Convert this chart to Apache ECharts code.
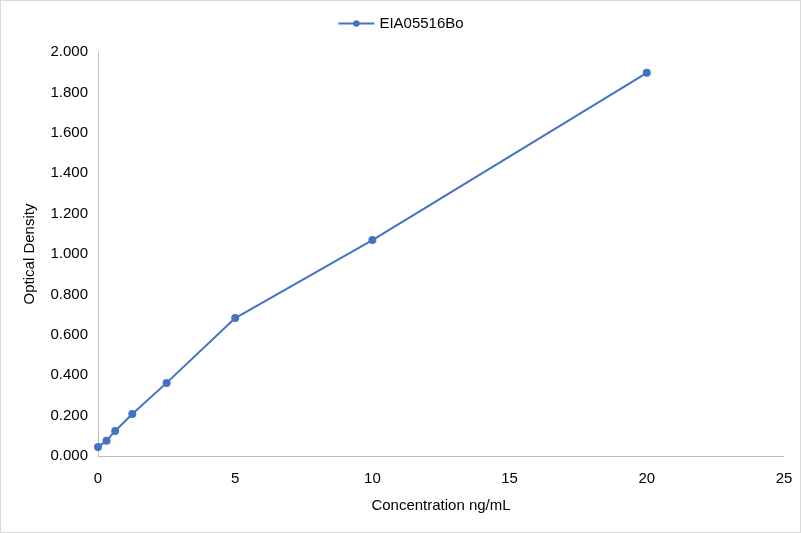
<!DOCTYPE html>
<html lang="en">
  <head>
    <meta charset="UTF-8" />
    <title>EIA05516Bo</title>
    <script src="https://cdn.jsdelivr.net/npm/echarts@6/dist/echarts.min.js"></script>
    <style>
      html, body { margin: 0; padding: 0; background: #fff; }
      #main { width: 799px; height: 531px; border: 1px solid #d9d9d9; }
    </style>
  </head>
  <body>
    <div id="main"></div>
    <script>
      const seriesName = 'EIA05516Bo'
      const concentrations = [0, 0.3125, 0.625, 1.25, 2.5, 5, 10, 20]
      const densities = [0.045, 0.076, 0.124, 0.208, 0.362, 0.683, 1.069, 1.897]

      const myChart = echarts.init(document.getElementById('main'))
      const axisText = { color: '#000', fontSize: 15, fontFamily: 'Arial, Liberation Sans, sans-serif' }

      const options = {
        animation: false,
        legend: {
          top: 10,
          left: 'center',
          itemWidth: 36,
          itemHeight: 8,
          textStyle: { color: '#000', fontSize: 15, fontFamily: 'Arial, Liberation Sans, sans-serif' },
          data: [seriesName],
        },
        grid: { left: 97, right: 16, top: 51, bottom: 76, containLabel: false },
        xAxis: {
          type: 'value',
          min: 0,
          max: 25,
          interval: 5,
          name: 'Concentration ng/mL',
          nameLocation: 'middle',
          nameGap: 42,
          nameTextStyle: axisText,
          axisLine: { lineStyle: { color: '#bfbfbf' } },
          axisTick: { show: false },
          axisLabel: Object.assign({ margin: 15 }, axisText),
          splitLine: { show: false },
        },
        yAxis: {
          type: 'value',
          min: 0,
          max: 2,
          interval: 0.2,
          name: 'Optical Density',
          nameLocation: 'middle',
          nameGap: 61,
          nameTextStyle: axisText,
          axisLine: { show: true, lineStyle: { color: '#bfbfbf' } },
          axisTick: { show: false },
          axisLabel: Object.assign({ margin: 10, formatter: v => v.toFixed(3) }, axisText),
          splitLine: { show: false },
        },
        series: [
          {
            name: seriesName,
            type: 'line',
            data: concentrations.map((c, i) => [c, densities[i]]),
            symbol: 'circle',
            symbolSize: 8,
            itemStyle: { color: '#4472c4' },
            lineStyle: { color: '#4472c4', width: 2 },
          },
        ],
      }
      myChart.setOption(options)
    </script>
  </body>
</html>
